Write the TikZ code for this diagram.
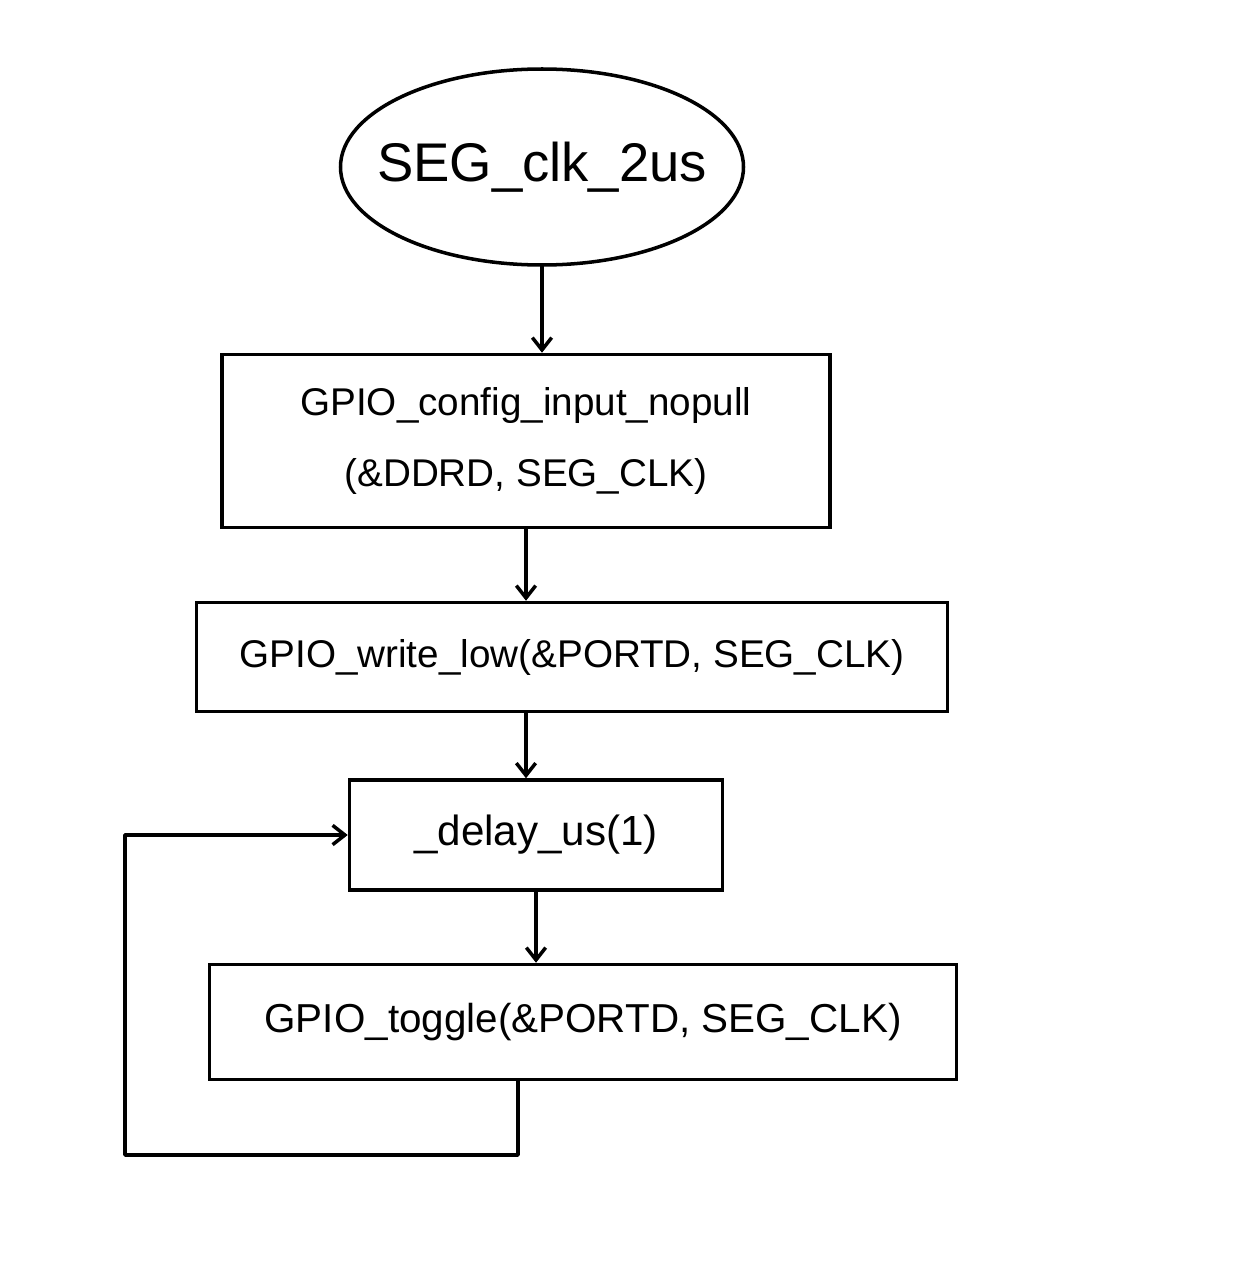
\documentclass[tikz,border=0pt]{standalone}
\usepackage{fontspec}
\setmainfont{Liberation Sans}
\usetikzlibrary{arrows.meta,shapes.geometric}
\begin{document}
\begin{tikzpicture}[x=0.02cm,y=-0.02cm,
  line width=2pt,
  boxnode/.style={draw,rectangle,inner sep=0pt,font=\fontsize{22}{40}\selectfont,align=center},
  arr/.style={-{Straight Barb[length=7pt,width=11pt,line width=2pt]}},
  linecon/.style={line cap=round,line join=round}]
\useasboundingbox (0,0) rectangle (1249,1271);
\node[draw,ellipse,minimum width=403*0.02cm,minimum height=196*0.02cm,inner xsep=-14pt,inner ysep=0pt,font=\fontsize{31}{36}\selectfont] (ell) at (542,167) {SEG\_clk\_2us};
\node[boxnode,minimum width=608*0.02cm,minimum height=173*0.02cm] (b1) at (526,441) {GPIO\_config\_input\_nopull\\(\&DDRD, SEG\_CLK)};
\node[boxnode,minimum width=751*0.02cm,minimum height=109*0.02cm] (b2) at (572,657) {GPIO\_write\_low(\&PORTD, SEG\_CLK)};
\node[boxnode,minimum width=373*0.02cm,minimum height=110*0.02cm,font=\fontsize{24}{30}\selectfont] (b3) at (536,835) {\_delay\_us(1)};
\node[boxnode,minimum width=747*0.02cm,minimum height=115*0.02cm,font=\fontsize{23}{30}\selectfont] (b4) at (583,1022) {GPIO\_toggle(\&PORTD, SEG\_CLK)};
\coordinate (lb) at (518,1155);
\coordinate (ll) at (125,1155);
\draw[arr,linecon] (ell.south) -- (ell.south |- b1.north);
\draw[arr,linecon] (b1.south) -- (b1.south |- b2.north);
\draw[arr,linecon] (b1.south |- b2.south) -- (b1.south |- b3.north);
\draw[arr,linecon] (b3.south) -- (b3.south |- b4.north);
\draw[arr,linecon] (lb |- b4.south) -- (lb) -- (ll) |- (b3.west);
\end{tikzpicture}
\end{document}
